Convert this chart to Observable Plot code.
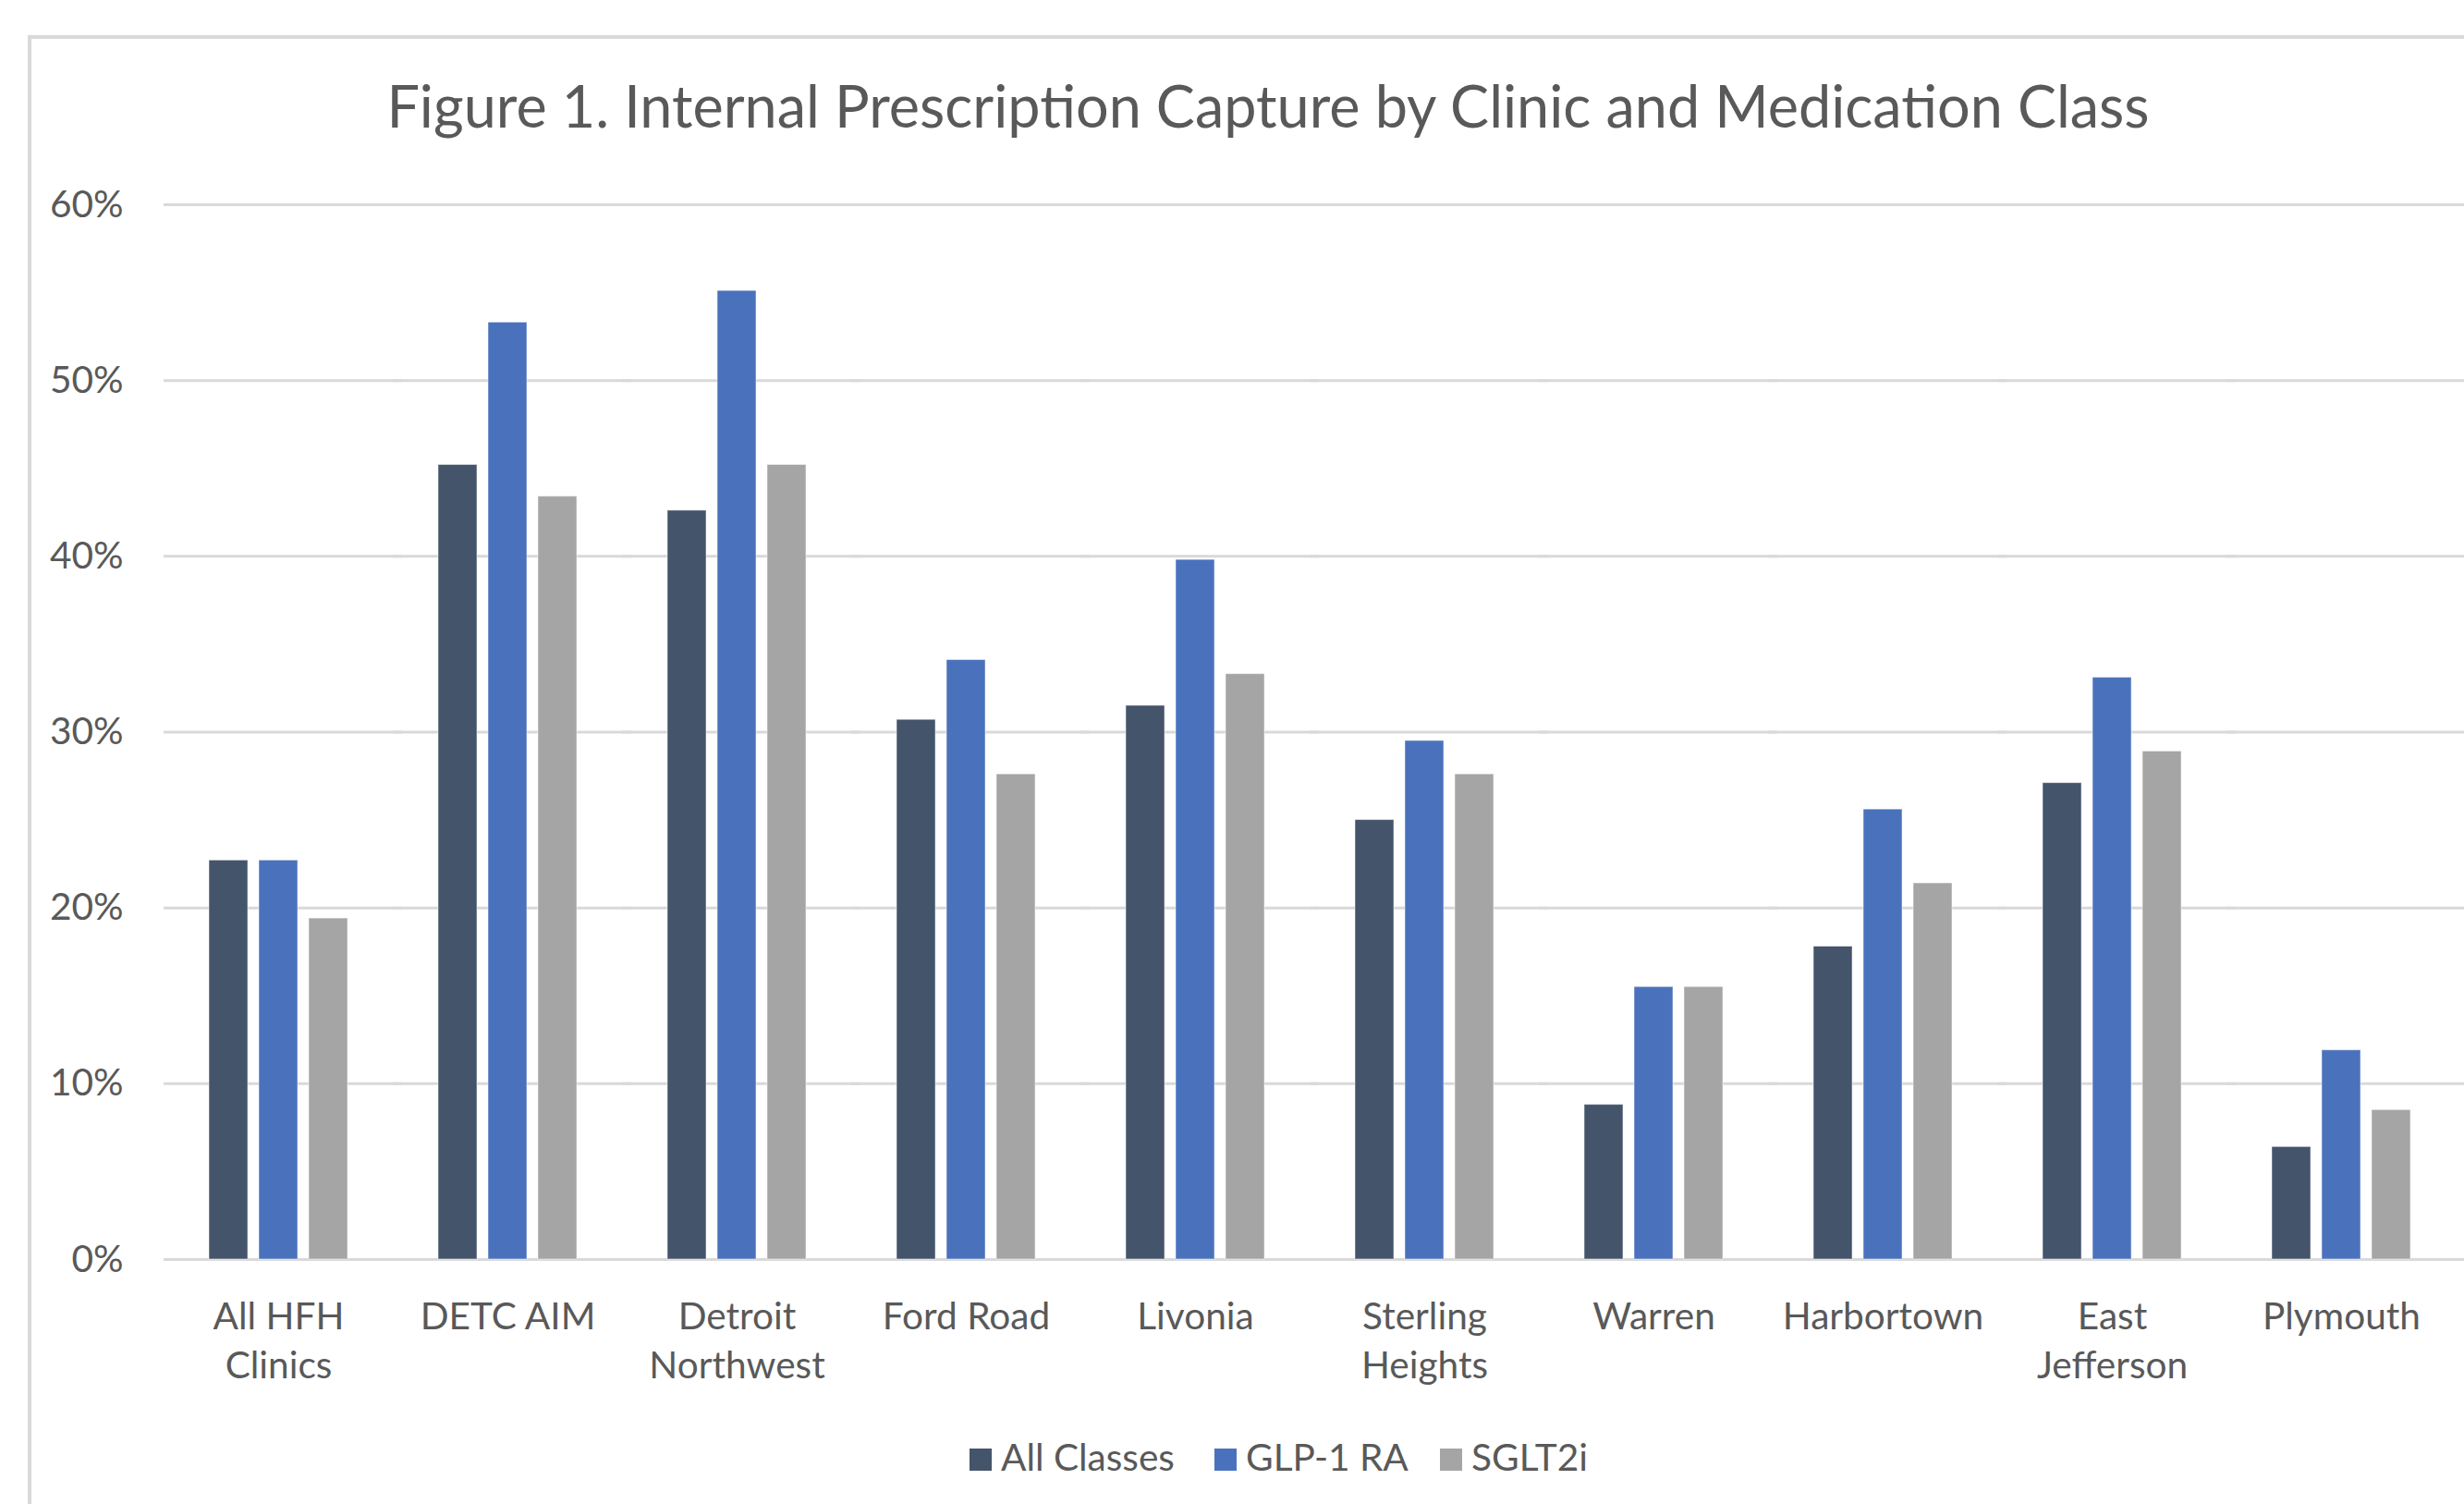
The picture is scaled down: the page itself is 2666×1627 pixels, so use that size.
<!DOCTYPE html>
<html>
<head>
<meta charset="utf-8">
<script src="https://cdn.jsdelivr.net/npm/d3@7"></script>
<script src="https://cdn.jsdelivr.net/npm/@observablehq/plot@0.6"></script>
<style>
  html, body { margin: 0; padding: 0; background: #fff; }
  #page { position: relative; width: 2666px; height: 1627px; overflow: hidden; font-family: Lato, "Open Sans", sans-serif; color: #595959; background: #fff; }
  #frame { position: absolute; left: 30px; top: 38px; right: -20px; bottom: -20px; border-left: 4px solid #D9D9D9; border-top: 4px solid #D9D9D9; }
  #title { position: absolute; left: 0; width: 2744px; text-align: center; line-height: 1; white-space: nowrap; }
  #chart { position: absolute; left: 0; top: 170px; }
  #legend { position: absolute; left: 0; top: 0; width: 2666px; height: 1627px; pointer-events: none; }
  .item { position: absolute; white-space: nowrap; line-height: 1; }
  .sw { display: inline-block; width: 24px; height: 24px; margin-right: 10px; vertical-align: baseline; }
</style>
</head>
<body>
<div id="page">
  <div id="frame"></div>
  <div id="title">Figure 1. Internal Prescription Capture by Clinic and Medication Class</div>
  <div id="chart"></div>
  <div id="legend"></div>
</div>
<script>
// ---- data ----
const clinics = ["All HFH Clinics", "DETC AIM", "Detroit Northwest", "Ford Road", "Livonia", "Sterling Heights", "Warren", "Harbortown", "East Jefferson", "Plymouth"];
const clinicLabels = ["All HFH\nClinics", "DETC AIM", "Detroit\nNorthwest", "Ford Road", "Livonia", "Sterling\nHeights", "Warren", "Harbortown", "East\nJefferson", "Plymouth"];
const seriesNames = ["All Classes", "GLP-1 RA", "SGLT2i"];
const allClasses = [0.227, 0.452, 0.426, 0.307, 0.315, 0.250, 0.088, 0.178, 0.271, 0.064];
const glp1RA     = [0.227, 0.533, 0.551, 0.341, 0.398, 0.295, 0.155, 0.256, 0.331, 0.119];
const sglt2i     = [0.194, 0.434, 0.452, 0.276, 0.333, 0.276, 0.155, 0.214, 0.289, 0.085];
const yTicks = [0, 0.1, 0.2, 0.3, 0.4, 0.5, 0.6];
const seriesColors = ["#44546A", "#4A72BC", "#A5A5A5"];
const titleText = "Figure 1. Internal Prescription Capture by Clinic and Medication Class";

// ---- font sizing (match reference text widths) ----
const FONT = "Lato";
const cv = document.createElement("canvas").getContext("2d");
function measure(t, size) { cv.font = `${size}px ${FONT}`; return cv.measureText(t).width; }
const refW = 185 + 218 + 167;
const fs = 100 * refW / (measure("Ford Road", 100) + measure("Harbortown", 100) + measure("Plymouth", 100));
const titleFs = 100 * 1909 / measure(titleText, 100);

// title
const title = document.getElementById("title");
title.style.fontSize = titleFs + "px";
title.style.top = (139 - 0.887 * titleFs) + "px";

// ---- chart ----
const series = [allClasses, glp1RA, sglt2i];
const data = clinics.flatMap((c, i) => seriesNames.map((s, j) => ({clinic: c, series: s, value: series[j][i]})));

const chart = Plot.plot({
  width: 2666,
  height: 1360,
  marginTop: 51,
  marginBottom: 168,
  marginLeft: 177,
  marginRight: 9,
  style: {fontFamily: FONT, background: "transparent", color: "#595959"},
  fx: {domain: clinics, paddingInner: 86 / 248, paddingOuter: 43 / 248, axis: null, label: null},
  x: {domain: seriesNames, paddingInner: 12 / 54, paddingOuter: 6 / 54, axis: null},
  y: {domain: [0, 0.6], axis: null},
  color: {domain: seriesNames, range: seriesColors},
  marks: [
    Plot.ruleY(yTicks, {y: d => d, stroke: "#D9D9D9", strokeWidth: 3, insetLeft: -43, insetRight: -53}),
    Plot.barY(data, {fx: "clinic", x: "series", y: "value", fill: "series", stroke: "#ffffff", strokeOpacity: 0.5, strokeWidth: 1}),
    Plot.text(clinics, {fx: d => d, text: (d, i) => clinicLabels[i], frameAnchor: "bottom", lineAnchor: "top", dy: 38, fontSize: fs, lineHeight: 53 / fs, fill: "#595959"}),
    Plot.text(yTicks, {fx: () => clinics[0], y: d => d, text: d => d3.format(".0%")(d), frameAnchor: "left", textAnchor: "end", dx: -87, fontSize: fs, fill: "#595959"})
  ]
});
document.getElementById("chart").appendChild(chart);

// ---- legend ----
const legendLefts = [1049, 1314, 1558];
const legend = document.getElementById("legend");
seriesNames.forEach((s, i) => {
  const item = document.createElement("span");
  item.className = "item";
  item.style.fontSize = fs + "px";
  item.style.left = legendLefts[i] + "px";
  item.style.top = (1592 - 0.887 * fs) + "px";
  const sw = document.createElement("span");
  sw.className = "sw";
  sw.style.background = seriesColors[i];
  item.appendChild(sw);
  item.appendChild(document.createTextNode(s));
  legend.appendChild(item);
});
</script>
</body>
</html>
